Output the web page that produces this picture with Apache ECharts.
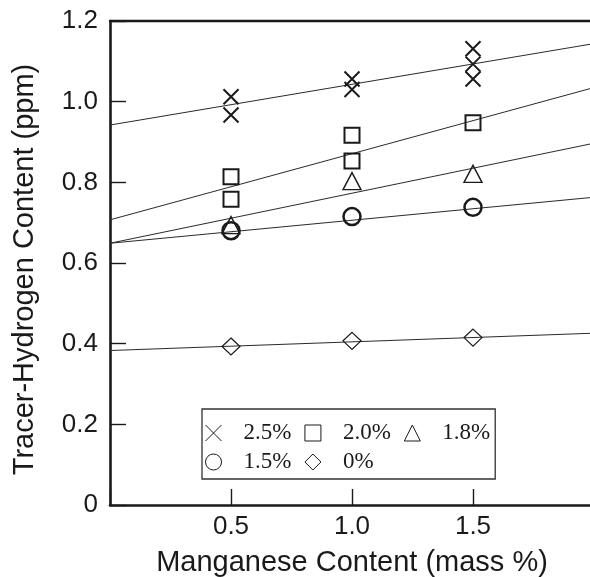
<!DOCTYPE html>
<html>
<head>
<meta charset="utf-8">
<style>
  html, body { margin: 0; padding: 0; background: #fff; }
  #chart { width: 590px; height: 577px; }
</style>
<script src="https://cdn.jsdelivr.net/npm/echarts@6/dist/echarts.min.js"></script>
</head>
<body>
<div id="chart"></div>
<script>
// ---- data ----
const seriesNames = ['2.5%', '2.0%', '1.8%', '1.5%', '0%'];
// measured points [Mn mass %, tracer-H ppm]
const pts25 = [[0.5, 1.012], [0.5, 0.967], [1.0, 1.056], [1.0, 1.030], [1.5, 1.131], [1.5, 1.093], [1.5, 1.056]];
const pts20 = [[0.5, 0.814], [0.5, 0.758], [1.0, 0.917], [1.0, 0.853], [1.5, 0.948]];
const pts18 = [[0.5, 0.694], [1.0, 0.803], [1.5, 0.821]];
const pts15 = [[0.5, 0.680], [1.0, 0.715], [1.5, 0.738]];
const pts00 = [[0.5, 0.393], [1.0, 0.407], [1.5, 0.415]];
// fitted lines: values at the two ends of the x range
const fitX = [0, 2.0];
const fit25 = [0.942, 1.144];
const fit20 = [0.707, 1.035];
const fit18 = [0.649, 0.897];
const fit15 = [0.649, 0.763];
const fit00 = [0.383, 0.426];
// axis ticks
const xTickShown = ['0.5', '1.0', '1.5'];

const ink = '#1a1a1a';
const crossPath = 'path://M0,0L10,10M10,0L0,10';

function fitLine(name, ys) {
  return {
    name: name, type: 'line', data: fitX.map((x, i) => [x, ys[i]]),
    showSymbol: false, symbol: 'none', silent: true, z: 1,
    lineStyle: { color: '#2a2a2a', width: 1 }
  };
}
function scatter(name, data, symbol, size, bw) {
  return {
    name: name, type: 'scatter', data: data, symbol: symbol, symbolSize: size, z: 3,
    itemStyle: { color: 'transparent', borderColor: ink, borderWidth: bw, opacity: 1 }
  };
}

const legendCommon = {
  orient: 'horizontal', align: 'left',
  itemWidth: 16, itemHeight: 16, itemGap: 13,
  selectedMode: false,
  itemStyle: { color: 'transparent', borderColor: ink, borderWidth: 1 },
  textStyle: { fontFamily: 'Liberation Serif', fontSize: 23, color: ink, padding: [0, 0, 0, 17] }
};

const chart = echarts.init(document.getElementById('chart'), null, { renderer: 'canvas' });
chart.setOption({
  animation: false,
  backgroundColor: '#fff',
  grid: { left: 110, top: 21, right: -4, bottom: 72, containLabel: false, outerBoundsMode: 'none' },
  xAxis: [{
    type: 'value', min: 0, max: 2.0, interval: 0.5,
    name: 'Manganese Content (mass %)', nameLocation: 'middle', nameGap: 43,
    nameTextStyle: { fontFamily: 'Liberation Sans', fontSize: 29, color: ink },
    axisLine: { show: true, onZero: false, lineStyle: { color: ink, width: 2.6 } },
    axisTick: { show: true, inside: true, length: 16, lineStyle: { color: ink, width: 1.4 } },
    axisLabel: {
      margin: 9, fontFamily: 'Liberation Sans', fontSize: 26, color: ink,
      formatter: v => { const s = v.toFixed(1); return xTickShown.indexOf(s) >= 0 ? s : ''; }
    },
    splitLine: { show: false }
  }, {
    type: 'value', position: 'top', min: 0, max: 2.0, interval: 0.5,
    axisLine: { show: true, onZero: false, lineStyle: { color: ink, width: 2.4 } },
    axisTick: { show: false }, axisLabel: { show: false }, splitLine: { show: false }
  }],
  yAxis: {
    type: 'value', min: 0, max: 1.2, interval: 0.2,
    name: 'Tracer-Hydrogen Content (ppm)', nameLocation: 'middle', nameGap: 71,
    nameTextStyle: { fontFamily: 'Liberation Sans', fontSize: 29, color: ink, padding: [0, 13, 0, 0] },
    axisLine: { show: true, onZero: false, lineStyle: { color: ink, width: 2.6 } },
    axisTick: { show: true, inside: true, length: 16, lineStyle: { color: ink, width: 1.4 } },
    axisLabel: {
      margin: 12, fontFamily: 'Liberation Sans', fontSize: 26, color: ink,
      formatter: v => v === 0 ? '0' : v.toFixed(1)
    },
    splitLine: { show: false }
  },
  legend: [
    Object.assign({}, legendCommon, {
      data: seriesNames.slice(0, 3),
      left: 202, top: 409,
      padding: [12.5, 5, 34.5, 3],
      borderColor: '#333', borderWidth: 1.3, backgroundColor: '#fff', z: 4
    }),
    Object.assign({}, legendCommon, {
      data: seriesNames.slice(3),
      left: 205, top: 450.5,
      padding: 0,
      borderWidth: 0, backgroundColor: 'transparent', z: 5
    })
  ],
  series: [
    fitLine('fit 2.5%', fit25),
    fitLine('fit 2.0%', fit20),
    fitLine('fit 1.8%', fit18),
    fitLine('fit 1.5%', fit15),
    fitLine('fit 0%', fit00),
    scatter('2.5%', pts25, crossPath, 15, 2),
    scatter('2.0%', pts20, 'rect', 15, 2),
    scatter('1.8%', pts18, 'triangle', [18, 17], 1.4),
    scatter('1.5%', pts15, 'circle', 17, 2.5),
    scatter('0%', pts00, 'diamond', [18, 17], 1.2)
  ]
});
</script>
</body>
</html>
